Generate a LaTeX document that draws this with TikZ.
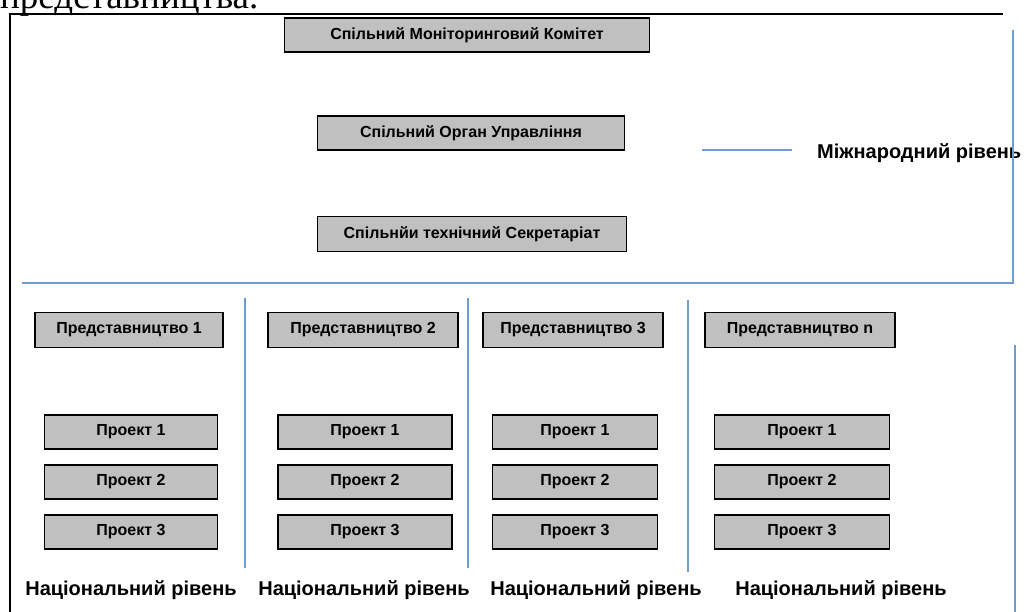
\documentclass[tikz,border=0pt]{standalone}
\usepackage{fontspec}
\setmainfont{Liberation Sans}
\newfontfamily\serifcut{Liberation Serif}
\definecolor{boxgray}{HTML}{C0C0C0}
\definecolor{lineblue}{HTML}{6F9BD0}
\begin{document}
\begin{tikzpicture}[x=1pt,y=-1pt,
  gbox/.style={draw=black,line width=1.3pt,fill=boxgray,inner sep=0pt,
    font=\fontsize{16}{18}\selectfont\bfseries,text=black},
  bluel/.style={draw=lineblue,line width=1.4pt},
  lvl/.style={font=\fontsize{20}{22}\selectfont\bfseries,inner sep=0pt}]
\clip (0,0) rectangle (1025,612);
\useasboundingbox (0,0) rectangle (1025,612);
% cut-off text at top
\node[anchor=base west,inner sep=0pt,font=\serifcut\fontsize{37}{39}\selectfont] (cut) at (0,9) {представництва.};
% black frame
\draw[black,line width=2pt] (10,700) -- (10,14) -- (1003,14);
% international level
\node[gbox,minimum width=365pt,minimum height=34pt] (smk) at (467,35) {Спільний Моніторинговий Комітет};
\node[gbox,minimum width=307pt,minimum height=34pt] (sou) at (471,133) {Спільний Орган Управління};
\node[gbox,minimum width=309pt,minimum height=35pt] (sts) at (472,234) {Спільнйи технічний Секретаріат};
\coordinate (ma) at (702,150);
\coordinate (mb) at (792,150);
\draw[bluel] (ma) -- (mb);
\node[font=\fontsize{20}{22}\selectfont\bfseries,anchor=west,inner sep=0pt] (mr) at (817,153) {Міжнародний рівень};
\coordinate (ra) at (1013,30);
\coordinate (rb) at (1013,283);
\coordinate (la) at (22,283);
\draw[bluel] (ra) -- (rb) -- (la);
% separators
\coordinate (s1a) at (245,298); \coordinate (s1b) at (245,568);
\coordinate (s2a) at (468,298); \coordinate (s2b) at (468,568);
\coordinate (s3a) at (688,300); \coordinate (s3b) at (688,572);
\coordinate (s4a) at (1015,345); \coordinate (s4b) at (1015,620);
\draw[bluel] (s1a) -- (s1b);
\draw[bluel] (s2a) -- (s2b);
\draw[bluel] (s3a) -- (s3b);
\draw[bluel] (s4a) -- (s4b);
% representations
\node[gbox,minimum width=188pt,minimum height=35pt] (p1) at (129,330) {Представництво 1};
\node[gbox,minimum width=190pt,minimum height=35pt] (p2) at (363,330) {Представництво 2};
\node[gbox,minimum width=180pt,minimum height=35pt] (p3) at (573,330) {Представництво 3};
\node[gbox,minimum width=190pt,minimum height=35pt] (pn) at (800,330) {Представництво n};
% projects
\foreach \c/\x/\w in {1/131/173,2/365/174,3/575/165,4/802/175}{
  \node[gbox,minimum width=\w pt,minimum height=34pt] (c\c r1) at (\x,432) {Проект 1};
  \node[gbox,minimum width=\w pt,minimum height=34pt] (c\c r2) at (\x,482) {Проект 2};
  \node[gbox,minimum width=\w pt,minimum height=34pt] (c\c r3) at (\x,532) {Проект 3};
}
% national level
\node[lvl] (n1) at (131,590) {Національний рівень};
\node[lvl] (n2) at (364,590) {Національний рівень};
\node[lvl] (n3) at (596,590) {Національний рівень};
\node[lvl] (n4) at (841,590) {Національний рівень};
\end{tikzpicture}
\end{document}
